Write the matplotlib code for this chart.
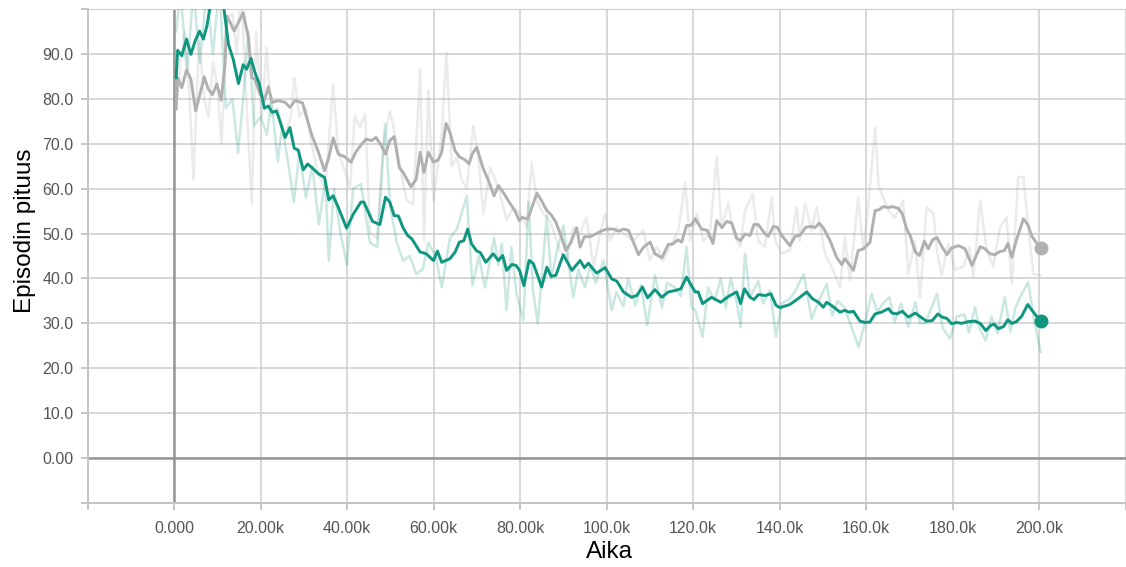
import matplotlib
matplotlib.use("Agg")
import matplotlib.pyplot as plt
from matplotlib.ticker import FixedLocator, FixedFormatter

plt.rcParams['font.family'] = ['Liberation Sans', 'DejaVu Sans']

# ---- data (steps in thousands) ----
teal_smooth_k = [0.5, 0.85, 1.8, 2.9, 3.9, 4.9, 5.9, 6.8, 7.6, 8.2, 9.0, 10.0, 11.0, 11.6, 12.6, 13.7, 14.9,
                 16.0, 16.8, 17.8, 18.7, 19.7, 20.9, 21.8, 22.7, 23.7, 24.7, 25.7, 26.8, 27.8, 28.7, 29.9,
                 30.9, 32.2, 33.4, 34.8, 35.8, 36.8, 38.0, 39.9, 41.5, 43.2, 43.9, 45.9, 47.6, 48.9, 49.9,
                 50.9, 51.9, 52.9, 54.0, 55.0, 56.9, 58.3, 60.0, 60.9, 61.9, 63.8, 65.0, 66.0, 67.0, 67.9,
                 68.8, 70.0, 70.8, 72.1, 73.8, 75.0, 76.0, 76.9, 78.1, 79.1, 79.9, 80.9, 82.1, 83.1, 85.0,
                 86.2, 87.2, 88.3, 90.0, 92.0, 93.9, 94.9, 95.8, 97.7, 99.7, 101.2, 102.4, 103.9, 105.8,
                 107.0, 108.3, 109.5, 111.2, 112.8, 114.3, 115.8, 117.2, 118.5, 120.5, 121.2, 122.2, 124.3,
                 126.4, 128.2, 130.1, 131.0, 131.9, 133.2, 134.1, 135.1, 136.7, 138.0, 139.2, 140.1, 142.4,
                 144.3, 146.3, 147.6, 149.0, 150.1, 150.9, 152.0, 154.0, 155.1, 156.1, 157.1, 158.6, 159.8,
                 160.9, 162.1, 163.6, 165.2, 166.0, 167.1, 168.4, 169.8, 171.4, 172.5, 174.0, 175.3, 176.6,
                 177.6, 178.7, 179.8, 181.0, 182.1, 183.7, 185.2, 186.4, 187.7, 188.9, 189.7, 190.6, 191.8,
                 192.8, 193.7, 194.8, 196.0, 197.4, 198.7, 200.4]
teal_smooth = [84.7, 90.8, 89.6, 93.3, 89.9, 92.9, 95.1, 93.3, 96.2, 99.6, 103.0, 105.0, 103.0, 99.6, 92.1, 88.8, 83.4,
               87.6, 86.6, 89.0, 85.9, 83.4, 77.9, 78.4, 77.0, 77.3, 74.4, 71.4, 73.6, 69.0, 68.6, 64.2,
               65.5, 64.4, 63.3, 62.5, 57.5, 58.4, 55.8, 51.2, 54.4, 57.0, 57.0, 52.7, 52.0, 58.1, 57.0,
               54.0, 53.9, 51.4, 49.6, 48.8, 45.9, 45.5, 44.0, 46.1, 43.6, 44.4, 45.9, 48.1, 48.4, 51.0,
               47.7, 46.1, 45.8, 43.6, 45.5, 44.0, 45.1, 41.8, 43.1, 42.9, 41.8, 38.4, 44.0, 43.3, 38.1,
               42.5, 40.5, 40.7, 45.3, 41.8, 44.0, 42.4, 43.4, 41.2, 42.4, 39.9, 39.4, 37.0, 35.8,
               36.2, 38.1, 35.7, 37.5, 35.8, 37.0, 37.3, 37.7, 40.3, 37.0, 37.0, 34.4, 35.8,
               34.7, 36.0, 37.0, 34.4, 37.7, 35.8, 35.3, 36.4, 36.2, 36.6, 34.0, 33.5, 34.2,
               35.5, 37.0, 35.5, 34.7, 33.6, 34.7, 34.0, 32.5, 32.9, 32.5, 32.7, 30.5, 30.2,
               30.3, 32.1, 32.5, 33.3, 32.3, 32.1, 32.7, 31.4, 32.3, 31.5, 30.5, 30.6, 32.1,
               31.4, 31.1, 29.9, 30.2, 30.0, 30.4, 30.5, 30.0, 28.4, 29.6, 29.8, 28.8, 29.3,
               30.8, 30.0, 30.4, 31.6, 34.2, 32.5, 30.5]

teal_raw_k = [0.5, 1.5, 3.0, 4.5, 6.0, 7.5, 9.0, 10.5, 12.0, 13.5, 14.8, 16.0, 17.2, 18.5, 20.0, 21.5, 22.5,
              24.0, 25.0, 26.5, 27.7, 29.0, 30.5, 32.0, 33.5, 35.0, 35.8, 37.0, 38.5, 40.0, 41.4, 43.2,
              45.3, 47.0, 48.8, 50.0, 51.5, 53.0, 54.5, 56.0, 57.5, 58.8, 60.5, 61.9, 63.8, 65.4, 67.7,
              69.0, 70.5, 71.9, 74.0, 75.0, 75.8, 76.9, 78.0, 79.2, 80.8, 82.0, 83.0, 84.1, 86.2, 87.2,
              88.5, 90.0, 92.3, 93.5, 95.0, 96.3, 97.5, 99.3, 101.2, 102.3, 103.9, 105.0, 106.7, 108.0,
              109.4, 111.2, 112.8, 114.0, 115.8, 117.2, 118.5, 119.7, 120.5, 122.2, 123.5, 125.0, 126.4,
              127.6, 128.7, 130.1, 131.0, 132.0, 133.2, 135.1, 136.2, 137.8, 139.2, 140.5, 142.4, 143.7,
              145.6, 147.4, 148.8, 150.9, 152.2, 153.4, 155.1, 156.2, 158.3, 159.7, 161.3, 162.6, 163.9,
              165.4, 166.6, 168.1, 169.8, 171.4, 172.5, 173.7, 176.4, 177.7, 179.4, 181.0, 182.8, 183.8,
              185.2, 186.2, 187.7, 189.0, 190.4, 192.1, 193.4, 194.5, 195.5, 197.5, 198.8, 200.4]
teal_raw = [95.0, 104.0, 86.0, 104.0, 88.0, 104.0, 90.0, 105.0, 78.0, 80.0, 68.0, 80.0, 95.0, 74.0, 76.0, 72.0, 80.0,
            66.0, 74.0, 65.0, 57.0, 68.0, 58.0, 65.0, 52.0, 62.0, 44.0, 60.0, 50.0, 43.0, 60.0, 61.0,
            48.0, 47.0, 74.4, 56.0, 48.0, 44.0, 45.0, 41.0, 42.0, 48.0, 45.0, 38.0, 49.0, 51.0, 58.4,
            38.4, 45.0, 38.0, 49.0, 43.0, 47.7, 32.9, 47.0, 36.6, 30.7, 57.0, 37.3, 30.0, 54.0, 40.0,
            45.9, 51.8, 35.8, 42.0, 38.0, 43.0, 39.0, 44.0, 32.9, 37.0, 33.8, 40.0, 34.0, 38.5,
            29.6, 40.7, 33.5, 39.0, 38.0, 36.0, 47.0, 33.5, 33.0, 27.0, 38.0, 35.0, 40.0,
            33.5, 40.0, 34.7, 29.2, 45.5, 35.8, 39.4, 34.4, 37.3, 27.0, 34.4, 35.5, 37.3,
            41.0, 31.0, 34.4, 38.8, 31.7, 35.0, 33.5, 30.3, 24.7, 30.0, 36.6, 32.5, 34.4,
            35.8, 30.3, 34.4, 29.2, 34.7, 30.0, 30.0, 36.6, 29.0, 26.6, 31.5, 32.0, 28.0,
            33.6, 29.0, 26.2, 31.5, 27.8, 35.8, 28.1, 33.3, 35.6, 39.2, 31.0, 23.6]

gray_smooth_k = [0.5, 0.85, 1.8, 2.9, 3.9, 5.0, 6.0, 7.0, 7.9, 8.9, 9.9, 10.9, 11.8, 12.2, 13.0, 13.9, 16.0,
                 17.2, 18.0, 18.7, 19.9, 20.9, 21.8, 22.7, 24.1, 25.7, 26.8, 28.0, 29.7, 31.8, 33.4, 34.8,
                 35.7, 36.8, 38.0, 39.5, 40.9, 42.2, 43.4, 44.4, 45.7, 46.7, 47.8, 48.9, 49.9, 50.9, 52.1,
                 53.0, 54.8, 56.0, 56.9, 57.8, 58.8, 60.0, 61.1, 61.9, 62.9, 63.8, 65.0, 66.1, 67.3, 68.2,
                 69.0, 70.0, 71.4, 72.7, 74.0, 75.0, 76.1, 77.3, 78.8, 79.8, 80.5, 81.8, 83.9, 85.0, 86.2,
                 87.2, 88.3, 89.6, 90.6, 91.8, 93.1, 93.9, 94.9, 96.2, 97.3, 98.7, 100.0, 101.6, 102.8,
                 103.9, 105.1, 106.2, 107.4, 108.6, 110.1, 111.2, 112.8, 114.3, 115.2, 116.5, 117.4, 118.5,
                 119.5, 120.5, 122.0, 123.3, 124.6, 125.5, 126.7, 127.8, 129.0, 130.1, 131.0, 132.0, 133.2,
                 134.1, 135.1, 136.7, 137.4, 138.6, 139.5, 140.5, 142.4, 143.6, 144.7, 146.1, 147.4, 148.2,
                 149.2, 150.1, 151.7, 153.2, 154.4, 155.1, 156.3, 157.1, 158.2, 159.4, 160.9, 162.1, 163.0,
                 164.0, 165.2, 166.1, 167.5, 168.4, 169.4, 170.2, 171.4, 172.4, 173.5, 174.4, 175.4, 176.4,
                 177.6, 178.7, 179.8, 181.4, 182.9, 184.5, 186.4, 187.5, 188.7, 189.8, 191.0, 192.0, 192.8,
                 193.7, 194.8, 196.4, 197.4, 198.4, 199.3, 200.4]
gray_smooth = [77.7, 84.7, 82.5, 86.4, 84.4, 77.3, 81.0, 84.9, 82.2, 80.9, 83.3, 79.7, 87.7, 98.4, 97.0, 95.1, 99.2,
               93.6, 84.7, 84.4, 81.0, 79.6, 82.7, 79.2, 79.6, 79.2, 78.1, 79.6, 79.1, 72.1, 68.1, 64.0,
               66.6, 71.3, 67.7, 67.1, 65.9, 68.4, 69.9, 71.0, 70.7, 71.4, 69.8, 67.7, 70.7, 71.6, 64.7,
               63.6, 60.4, 62.1, 68.1, 63.6, 68.1, 65.9, 66.4, 68.1, 74.5, 72.5, 68.4, 67.0, 66.4, 65.5,
               67.8, 69.2, 64.7, 61.8, 58.4, 60.7, 59.2, 57.3, 55.1, 52.9, 53.6, 53.2, 59.0, 57.3, 55.1,
               54.2, 52.5, 49.2, 46.2, 48.1, 51.3, 47.0, 49.3, 49.3, 49.8, 50.5, 51.0, 51.0, 50.5,
               51.0, 50.7, 48.1, 45.3, 47.0, 48.1, 45.5, 44.6, 47.6, 47.6, 48.6, 48.1, 51.8,
               51.8, 53.3, 51.0, 50.7, 47.8, 52.9, 51.3, 52.7, 52.3, 49.0, 48.4, 49.9, 49.6,
               52.0, 52.0, 49.9, 49.4, 51.6, 51.4, 49.6, 47.3, 49.4, 49.6, 51.4, 51.6, 51.3,
               52.3, 51.3, 48.4, 44.7, 43.1, 44.4, 42.9, 41.8, 46.2, 46.6, 48.0, 55.1, 55.3,
               56.0, 55.8, 56.0, 55.6, 54.4, 51.0, 49.6, 45.9, 45.1, 48.3, 46.6, 48.6, 49.1,
               47.0, 45.3, 46.8, 47.3, 46.6, 42.9, 47.1, 46.6, 45.5, 45.3, 46.0, 46.2, 47.8,
               44.7, 48.6, 53.3, 52.0, 49.3, 48.1, 46.8]

gray_raw_k = [0.5, 1.5, 2.5, 3.5, 4.5, 5.8, 7.0, 8.0, 9.0, 10.0, 11.0, 12.2, 13.5, 14.5, 15.5, 16.5, 18.0,
              19.0, 20.3, 21.4, 22.5, 24.0, 25.5, 27.0, 27.8, 29.0, 30.5, 31.8, 33.4, 35.0, 36.8, 38.0,
              39.5, 40.7, 41.8, 43.0, 44.2, 45.3, 46.9, 48.4, 49.9, 50.7, 52.3, 53.8, 55.3, 56.9, 57.8,
              58.8, 60.0, 61.9, 63.0, 64.2, 65.4, 66.5, 67.7, 69.2, 70.4, 71.5, 73.1, 75.0, 76.9, 78.5,
              80.0, 81.5, 82.7, 83.9, 85.4, 86.9, 89.2, 90.8, 92.3, 93.9, 95.4, 97.0, 98.5, 99.7, 100.8,
              102.4, 103.9, 106.2, 108.5, 110.0, 111.6, 113.1, 114.7, 116.6, 118.2, 119.3, 120.9, 122.4,
              123.9, 125.5, 126.6, 128.2, 129.3, 130.9, 132.0, 133.8, 135.1, 136.6, 138.2, 139.0, 140.5,
              142.4, 144.0, 144.7, 145.9, 147.4, 148.6, 150.5, 152.1, 154.0, 155.1, 156.3, 158.2, 159.4,
              160.5, 162.1, 162.9, 164.0, 165.2, 166.7, 168.6, 169.8, 171.3, 172.5, 174.0, 175.6, 176.5,
              177.5, 179.0, 180.6, 182.5, 184.0, 184.8, 186.4, 187.9, 189.4, 191.0, 192.5, 193.7, 195.2,
              196.4, 197.5, 198.7, 200.4]
gray_raw = [78.0, 88.0, 95.0, 82.0, 62.0, 93.0, 80.0, 76.0, 88.0, 83.0, 70.0, 98.0, 99.0, 90.0, 105.0, 84.0, 56.6,
            95.0, 76.0, 91.4, 76.0, 78.0, 71.4, 76.0, 84.7, 76.0, 78.0, 70.0, 63.0, 60.0, 83.3, 68.0,
            64.0, 60.3, 76.2, 73.6, 76.6, 50.4, 48.9, 70.0, 77.3, 74.0, 64.7, 57.3, 56.6, 86.6, 48.4,
            81.8, 57.3, 72.2, 90.3, 65.0, 67.0, 62.0, 60.0, 74.0, 67.0, 54.4, 64.7, 60.3, 53.0, 55.8,
            54.4, 51.4, 65.9, 57.3, 54.4, 53.0, 46.2, 44.0, 51.4, 50.0, 53.6, 42.5, 50.0, 54.4, 48.4,
            51.4, 50.0, 48.4, 50.7, 44.0, 47.1, 44.0, 47.1, 50.7, 61.4, 48.4, 54.4, 48.4,
            50.0, 67.0, 51.4, 57.0, 50.0, 47.1, 55.1, 58.8, 48.4, 47.0, 58.0, 48.4, 45.5,
            46.3, 55.9, 48.4, 56.7, 50.7, 55.9, 45.5, 42.5, 38.0, 49.2, 39.6, 58.0, 46.3,
            55.9, 73.6, 60.7, 58.0, 55.1, 53.6, 57.3, 41.0, 48.4, 35.8, 55.9, 54.4, 45.5,
            40.7, 47.8, 41.9, 42.6, 47.0, 40.3, 57.3, 46.3, 42.6, 51.4, 53.6, 38.8, 62.5,
            62.7, 51.4, 41.0, 40.7]

x_ticks_k = [-20, 0, 20, 40, 60, 80, 100, 120, 140, 160, 180, 200, 220]
x_tick_labels = ["", "0.000", "20.00k", "40.00k", "60.00k", "80.00k", "100.0k", "120.0k",
                 "140.0k", "160.0k", "180.0k", "200.0k", ""]
y_ticks = [-10, 0, 10, 20, 30, 40, 50, 60, 70, 80, 90, 100]
y_tick_labels = ["", "0.00", "10.0", "20.0", "30.0", "40.0", "50.0", "60.0", "70.0", "80.0", "90.0", ""]

TEAL = "#0f967f"
GRAY = "#b0b0b0"

fig = plt.figure(figsize=(11.26, 5.67), dpi=100)
ax = fig.add_axes([87.5 / 1126, 1 - 503 / 567, (1125.5 - 87.5) / 1126, (503 - 9) / 567])

def k(v):
    return [x * 1000 for x in v]

ax.plot(k(gray_raw_k), gray_raw, color=GRAY, alpha=0.25, lw=1.8, zorder=2)
ax.plot(k(teal_raw_k), teal_raw, color=TEAL, alpha=0.22, lw=1.8, zorder=3)
ax.plot(k(gray_smooth_k), gray_smooth, color=GRAY, lw=2.1, zorder=4, solid_joinstyle='round')
ax.plot(k(teal_smooth_k), teal_smooth, color=TEAL, lw=2.1, zorder=5, solid_joinstyle='round')
ax.plot([gray_smooth_k[-1] * 1000], [gray_smooth[-1]], 'o', color=GRAY, ms=9, zorder=6, clip_on=False)
ax.plot([teal_smooth_k[-1] * 1000], [teal_smooth[-1]], 'o', color=TEAL, ms=9, zorder=7, clip_on=False)

ax.set_xlim(-20000, 220000)
ax.set_ylim(-10, 100)
ax.xaxis.set_major_locator(FixedLocator(k(x_ticks_k)))
ax.xaxis.set_major_formatter(FixedFormatter(x_tick_labels))
ax.yaxis.set_major_locator(FixedLocator(y_ticks))
ax.yaxis.set_major_formatter(FixedFormatter(y_tick_labels))

ax.grid(True, color="#cdcdcd", lw=1.1, zorder=0)
ax.set_axisbelow(True)
ax.axhline(0, color="#969696", lw=1.8, zorder=1)
ax.axvline(0, color="#969696", lw=1.8, zorder=1)

ax.spines['right'].set_visible(False)
ax.spines['top'].set_color("#cdcdcd")
for side in ['left', 'bottom']:
    ax.spines[side].set_color("#c4c4c4")
    ax.spines[side].set_linewidth(1.4)

ax.tick_params(axis='both', colors="#c4c4c4", length=5, width=1.4, labelcolor="#555555", labelsize=11.5)
ax.tick_params(axis='y', pad=5)
ax.tick_params(axis='x', pad=8)

fig.text(25 / 1126, 1 - 231 / 567, "Episodin pituus", rotation=90, ha='center', va='center',
         fontsize=17.5, color="black")
fig.text(609 / 1126, 1 - 552 / 567, "Aika", ha='center', va='center', fontsize=17.5, color="black")

fig.savefig("out.png", dpi=100)
